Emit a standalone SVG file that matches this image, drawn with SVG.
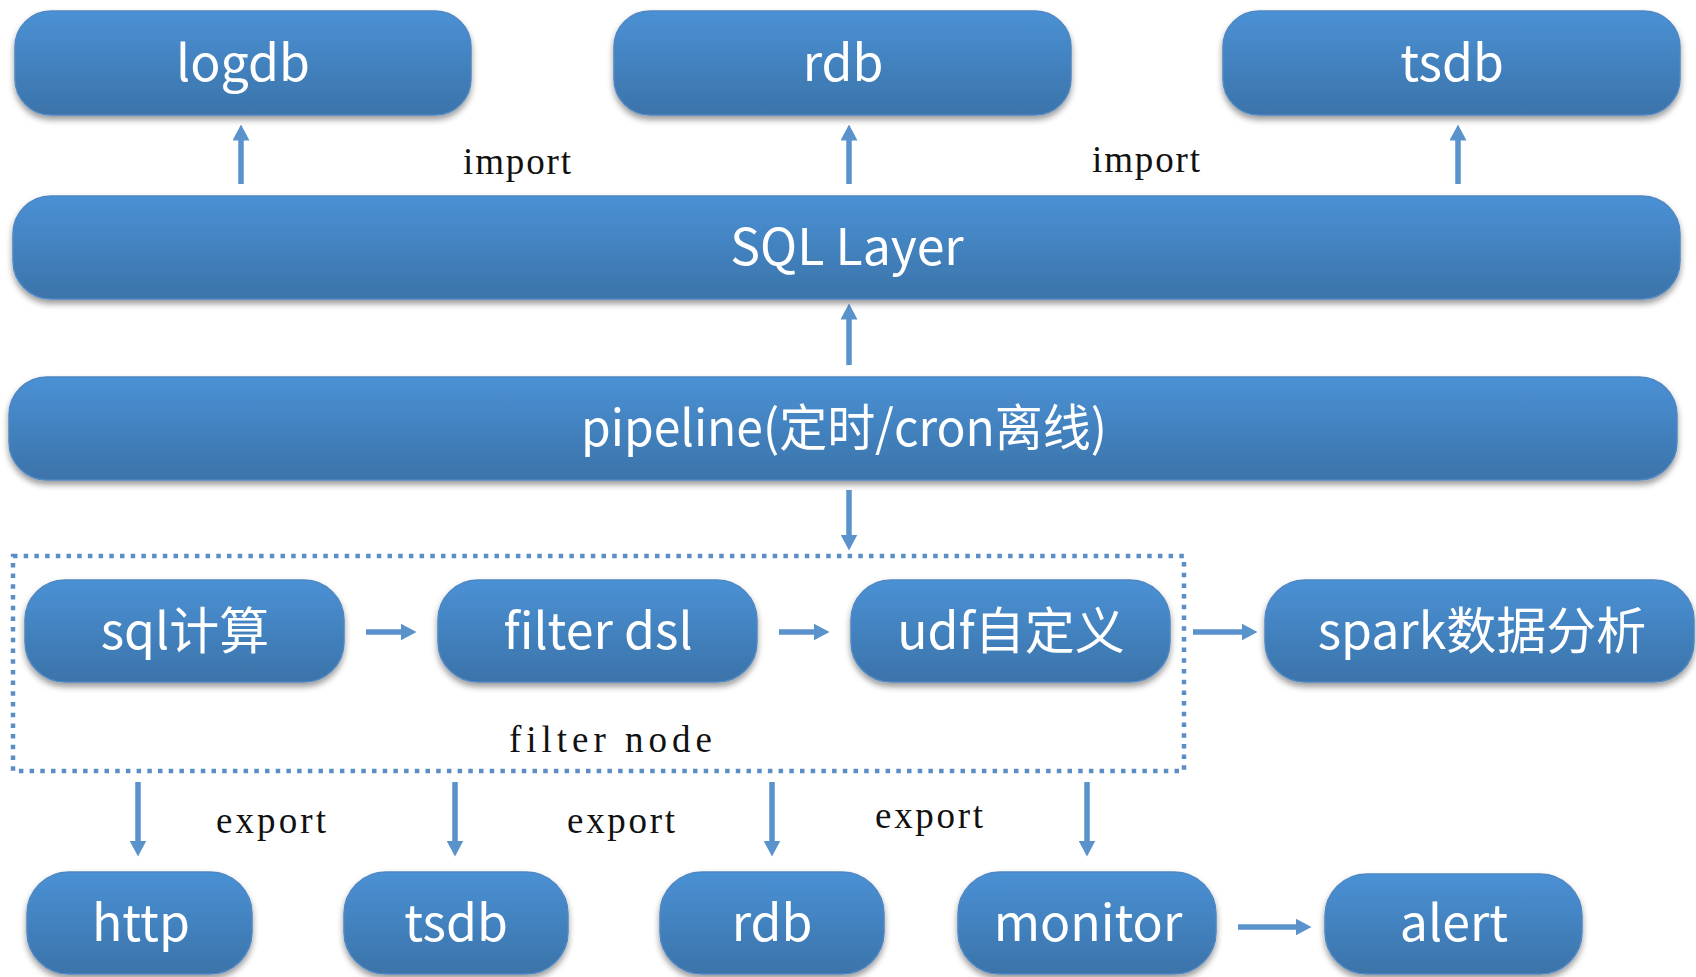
<svg xmlns="http://www.w3.org/2000/svg" width="1696" height="977" viewBox="0 0 1696 977">
<defs>
<linearGradient id="g" x1="0" y1="0" x2="0" y2="1">
<stop offset="0" stop-color="#4a91d5"/>
<stop offset="1" stop-color="#3b73a9"/>
</linearGradient>
<filter id="sh" x="-5%" y="-20%" width="110%" height="150%">
<feDropShadow dx="0" dy="4" stdDeviation="3" flood-color="#000" flood-opacity="0.4"/>
</filter>
<marker id="ah" markerUnits="userSpaceOnUse" markerWidth="16" markerHeight="17" viewBox="0 0 16 17" refX="0.5" refY="8.5" orient="auto">
<path d="M0,0 L16,8.5 L0,17 z" fill="#5a93cc"/>
</marker>
<style>
.n{fill:url(#g);stroke:#4f87c2;stroke-width:1.5;filter:url(#sh)}
.t{fill:#fff;font-family:"Noto Sans CJK SC","Noto Sans",sans-serif;font-size:50px;text-anchor:middle}
.l{fill:#111;font-family:"Liberation Serif","DejaVu Serif",serif;font-size:37px}
.a{stroke:#5a93cc;stroke-width:5.5;fill:none;marker-end:url(#ah)}
.box{fill:none;stroke:#5b8ec6;stroke-width:4.5;stroke-dasharray:4.5 6.2}
</style>
</defs>
<rect width="1696" height="977" fill="#fff"/>

<g id="filter-node-box">
<rect class="box" x="13" y="556" width="1171" height="215"/>
<text class="l" x="509" y="752" textLength="203" lengthAdjust="spacing">filter node</text>
</g>

<g id="connectors">
<line class="a" x1="241" y1="184" x2="241" y2="140"/>
<line class="a" x1="849" y1="184" x2="849" y2="140"/>
<line class="a" x1="1458" y1="184" x2="1458" y2="140"/>
<line class="a" x1="849" y1="365" x2="849" y2="319"/>
<line class="a" x1="849" y1="490" x2="849" y2="535"/>
<line class="a" x1="366" y1="632" x2="401" y2="632"/>
<line class="a" x1="779" y1="632" x2="814" y2="632"/>
<line class="a" x1="1193" y1="632" x2="1242" y2="632"/>
<line class="a" x1="138" y1="782" x2="138" y2="841"/>
<line class="a" x1="455" y1="782" x2="455" y2="841"/>
<line class="a" x1="772" y1="782" x2="772" y2="841"/>
<line class="a" x1="1087" y1="782" x2="1087" y2="841"/>
<line class="a" x1="1238" y1="927" x2="1296" y2="927"/>
<text class="l" x="463" y="174" textLength="108" lengthAdjust="spacing">import</text>
<text class="l" x="1092" y="172" textLength="108" lengthAdjust="spacing">import</text>
<text class="l" x="216" y="833" textLength="110" lengthAdjust="spacing">export</text>
<text class="l" x="567" y="833" textLength="108" lengthAdjust="spacing">export</text>
<text class="l" x="875" y="828" textLength="108" lengthAdjust="spacing">export</text>
</g>

<g id="logdb"><rect class="n" x="15" y="11" width="456" height="104" rx="36"/><text class="t" x="243" y="81">logdb</text></g>
<g id="rdb-top"><rect class="n" x="614" y="11" width="457" height="104" rx="36"/><text class="t" x="843" y="81">rdb</text></g>
<g id="tsdb-top"><rect class="n" x="1223" y="11" width="457" height="104" rx="36"/><text class="t" x="1452" y="81">tsdb</text></g>

<g id="sql-layer"><rect class="n" x="13" y="196" width="1667" height="103" rx="38"/><text class="t" x="847" y="265">SQL Layer</text></g>
<g id="pipeline"><rect class="n" x="9" y="377" width="1668" height="103" rx="38"/><text class="t" x="844" y="446" textLength="526" lengthAdjust="spacingAndGlyphs">pipeline(定时/cron离线)</text></g>

<g id="sql-calc"><rect class="n" x="25" y="580" width="319" height="102" rx="40"/><text class="t" x="185" y="649">sql计算</text></g>
<g id="filter-dsl"><rect class="n" x="438" y="580" width="319" height="102" rx="40"/><text class="t" x="598" y="649">filter dsl</text></g>
<g id="udf"><rect class="n" x="851" y="580" width="319" height="102" rx="40"/><text class="t" x="1011" y="649">udf自定义</text></g>
<g id="spark"><rect class="n" x="1265" y="580" width="429" height="102" rx="40"/><text class="t" x="1482" y="649">spark数据分析</text></g>

<g id="http"><rect class="n" x="27" y="872" width="225" height="102" rx="42"/><text class="t" x="141" y="941">http</text></g>
<g id="tsdb-bottom"><rect class="n" x="344" y="872" width="224" height="102" rx="42"/><text class="t" x="456" y="941">tsdb</text></g>
<g id="rdb-bottom"><rect class="n" x="660" y="872" width="224" height="102" rx="42"/><text class="t" x="772" y="941">rdb</text></g>
<g id="monitor"><rect class="n" x="958" y="872" width="258" height="102" rx="42"/><text class="t" x="1088" y="941">monitor</text></g>
<g id="alert"><rect class="n" x="1325" y="874" width="257" height="100" rx="42"/><text class="t" x="1454" y="941">alert</text></g>
</svg>
